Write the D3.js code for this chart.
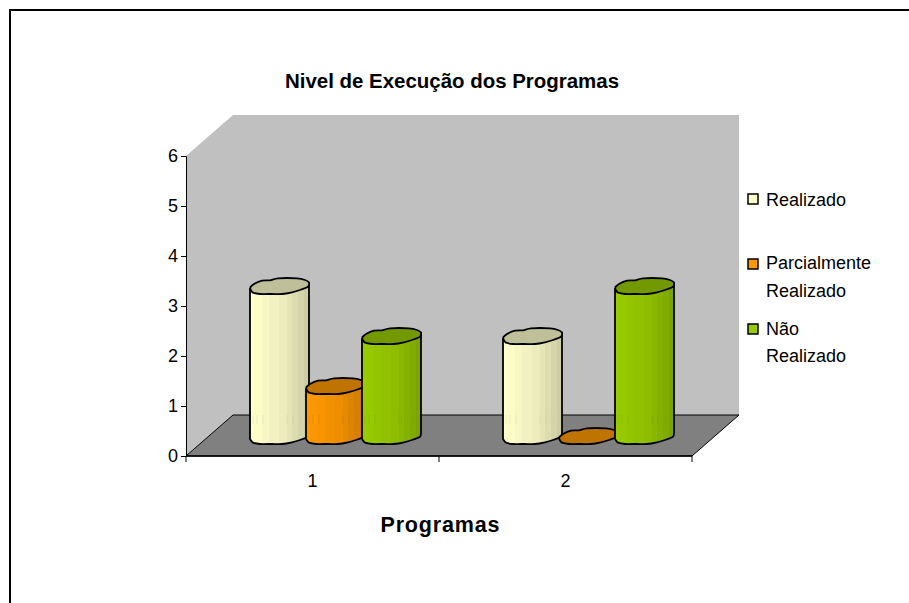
<!DOCTYPE html>
<html><head><meta charset="utf-8">
<script src="https://cdnjs.cloudflare.com/ajax/libs/d3/7.8.5/d3.min.js"></script>
<style>html,body{margin:0;padding:0;background:#fff;overflow:hidden}svg{display:block}text{font-family:"Liberation Sans",Arial,sans-serif;fill:#000}</style>
</head><body><svg id="c" width="909" height="603"></svg>
<script>
const categories = ["1","2"];
const seriesNames = ["Realizado","Parcialmente Realizado","Não Realizado"];
const realizado = [3,2];
const parcial = [1,0];
const naoRealizado = [2,3];
const yTicks = [0,1,2,3,4,5,6];
const fills = ["#FFFFCC","#FF9900","#99CC00"];
const darks = ["#BFBF99","#BF7300","#739900"];

const svg = d3.select("#c");
const X0=186,X1=692,Y0=456,Y6=156,DX=47,DY=-41;
const y = d3.scaleLinear().domain([0,6]).range([Y0,Y6]);
const xBand = d3.scaleBand().domain(categories).range([X0,X1]);
const xSeries = d3.scaleBand().domain(seriesNames).range([-62.5,105.5]).padding(0);

svg.append("path").attr("d","M920,10H10V620").attr("fill","none").attr("stroke","#000").attr("stroke-width",2);

// walls
svg.append("path").attr("d",`M${X0},${Y0}L${X0},${Y6}L${X0+DX},${Y6+DY}L${X1+DX},${Y6+DY}L${X1+DX},${Y0+DY}L${X0+DX},${Y0+DY}Z`).attr("fill","#C0C0C0");
svg.append("path").attr("d",`M${X0},${Y0}L${X0+DX},${Y0+DY}L${X1+DX},${Y0+DY}L${X1},${Y0}Z`).attr("fill","#808080").attr("stroke","#000").attr("stroke-width",1);

// axes
const yAxis = d3.axisLeft(y).tickValues(yTicks).tickSize(5).tickPadding(3).tickFormat(d3.format("d"));
const gy = svg.append("g").attr("transform",`translate(${X0},0)`).call(yAxis);
const xAxisScale = d3.scalePoint().domain(["a","b","c"]).range([X0,X1]);
const gx = svg.append("g").attr("transform",`translate(0,${Y0})`);
gx.append("line").attr("x1",X0).attr("x2",X1).attr("stroke","#000").attr("stroke-width",1.4);
gx.selectAll("line.t").data(xAxisScale.domain()).join("line").attr("class","t").attr("x1",d=>xAxisScale(d)).attr("x2",d=>xAxisScale(d)).attr("y2",6).attr("stroke","#000");
gx.selectAll("text").data(categories).join("text").attr("x",d=>xBand(d)+xBand.bandwidth()/2).attr("y",31).attr("text-anchor","middle").attr("font-size",18).text(d=>d);
gy.selectAll("text").attr("font-size",18).attr("font-family",null);
gy.selectAll("line,path").attr("stroke","#000");

// cross-section outline, as offsets from the left point, in px for a 59 px wide column
const rim = [[0,-1.5],[4,-5],[12,-8.3],[20,-8.7],[28,-10.7],[47,-10.7],[55,-9],[59,-6.3],[58,-2.3],[50,1],[42,3.3],[32,5],[22,5],[10,5],[3,3.7],[0.7,1]];
const rimLine = d3.line().curve(d3.curveCardinal.tension(.35));
const grad = svg.append("defs").selectAll("linearGradient").data(fills).join("linearGradient")
 .attr("id",(d,i)=>"g"+i).attr("x1",0).attr("x2",1).attr("y1",0).attr("y2",0);
const bands=[0,.07,.2,.33,.5,.62,.72,.82,.92,1];
const shade=[0,.05,.12,.22,.3,.42,.55,.65,.78,.92];
grad.each(function(c,i){
  const ip=d3.interpolateRgb(fills[i],darks[i]);
  const g=d3.select(this);
  bands.slice(0,-1).forEach((b,k)=>{
    g.append("stop").attr("offset",b).attr("stop-color",ip(shade[k]));
    g.append("stop").attr("offset",bands[k+1]).attr("stop-color",ip(shade[k]));
  });
});
const seamOffsets=[3,7,13,37,43,51];
const baseShift = -17; // base of column sits this far above the front axis line
const data = categories.map((c,ci)=>[realizado[ci],parcial[ci],naoRealizado[ci]]);
categories.forEach((c,ci)=>{
  seriesNames.forEach((s,si)=>{
    const v=data[ci][si];
    const lx=xBand(c)+xBand.bandwidth()/2+xSeries(s);
    const yb=y(0)+baseShift, yt=y(v)+baseShift;
    const top=rim.map(p=>[lx+p[0],yt+p[1]]);
    const lower=rim.slice(7).concat([[0,0]]);
    const g=svg.append("g").attr("stroke","#000").attr("stroke-width",1.8).attr("stroke-linejoin","round");
    if(v>0){
      const lowerPts=lower.map(p=>[lx+p[0],yb+p[1]]);
      const d=`M${lx},${yt}L${lx+59},${yt-6.3}`+rimLine(lowerPts).replace(/^M/,"L")+"Z";
      g.append("path").attr("d",d).attr("fill",`url(#g${si})`);
      if(yt<Y0+DY) g.selectAll("line.s").data(seamOffsets).join("line").attr("class","s")
        .attr("x1",o=>lx+o).attr("x2",o=>lx+o).attr("y1",Y0+DY).attr("y2",Y0+DY+9)
        .attr("stroke",darks[si]).attr("stroke-width",1).attr("stroke-opacity",.3);
    }
    g.append("path").attr("d",rimLine(top.concat([top[0]]))).attr("fill",darks[si]);
  });
});

// titles
svg.append("text").attr("x",452).attr("y",88).attr("text-anchor","middle").attr("font-size",20).attr("font-weight","bold").attr("textLength",334).attr("lengthAdjust","spacingAndGlyphs").text("Nivel de Execução dos Programas");
svg.append("text").attr("x",440).attr("y",532).attr("text-anchor","middle").attr("font-size",21.5).attr("font-weight","bold").attr("textLength",119).text("Programas");

// legend
const legendRows=[{i:0,ys:[205.5],lines:["Realizado"],sq:199},{i:1,ys:[269,297],lines:["Parcialmente","Realizado"],sq:264},{i:2,ys:[335,362],lines:["Não","Realizado"],sq:329}];
const lg=svg.append("g");
legendRows.forEach(r=>{
  lg.append("rect").attr("x",748).attr("y",r.sq-5).attr("width",10).attr("height",10).attr("fill",fills[r.i]).attr("stroke","#000").attr("stroke-width",1.5);
  r.lines.forEach((t,k)=>lg.append("text").attr("x",766).attr("y",r.ys[k]).attr("font-size",18).text(t));
});
</script></body></html>
